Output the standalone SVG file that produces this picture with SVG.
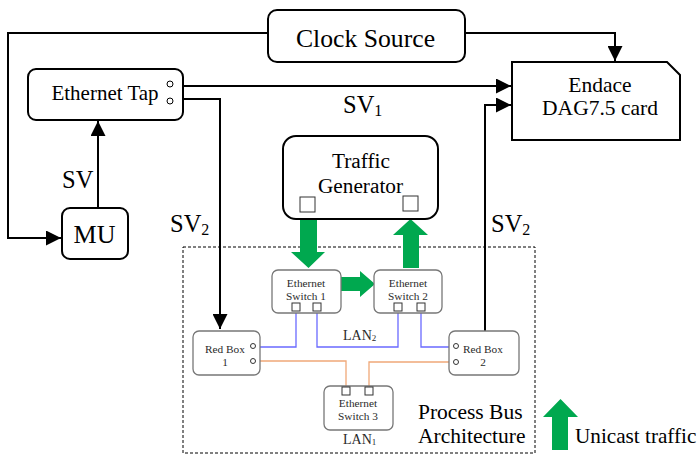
<svg xmlns="http://www.w3.org/2000/svg" width="697" height="455" viewBox="0 0 697 455" font-family="Liberation Serif, Times New Roman, serif">
  <defs>
    <marker id="arrowLg" viewBox="0 0 10 10" refX="10" refY="5" markerWidth="7.5" markerHeight="7.5" orient="auto">
      <path d="M0,0 L10,5 L0,10 z" fill="#000"/>
    </marker>
  </defs>
  <style>
    text { font-family: 'Liberation Serif', 'Times New Roman', serif; fill: #000; }
    .box { fill: #fff; stroke: #000; stroke-width: 2; }
    .sub { fill: #fff; stroke: #777; stroke-width: 1.3; }
    .port { fill: #fff; stroke: #333; stroke-width: 1; }
    .wire { fill: none; stroke: #000; stroke-width: 2; }
    .lan2 { fill: none; stroke: #6a6aff; stroke-width: 1.3; }
    .lan1 { fill: none; stroke: #f0a878; stroke-width: 1.3; }
    .lbl { font-size: 21.5px; }
    .sv { font-size: 24.5px; }
    .subs { font-size: 16px; }
    .small { font-size: 11.3px; fill: #2a2a2a; }
    .lan { font-size: 14px; fill: #2a2a2a; }
    .green { fill: #00a84f; }
  </style>

  <!-- process bus boundary -->
  <rect x="183" y="247" width="352" height="206" fill="none" stroke="#000" stroke-width="1" stroke-dasharray="3,2"/>

  <g id="connectors">
    <!-- clock distribution -->
    <polyline class="wire" points="268,33 8,33 8,238 61,238" marker-end="url(#arrowLg)"/>
    <polyline class="wire" points="465,33 615,33 615,61" marker-end="url(#arrowLg)"/>
    <!-- SV from MU to tap -->
    <line class="wire" x1="98" y1="208" x2="98" y2="121" marker-end="url(#arrowLg)"/>
    <!-- SV1 to DAG card -->
    <line class="wire" x1="181" y1="86" x2="511" y2="86" marker-end="url(#arrowLg)"/>
    <!-- SV2 from tap to Red Box 1 -->
    <polyline class="wire" points="181,99 220,99 220,329" marker-end="url(#arrowLg)"/>
    <!-- SV2 from Red Box 2 to DAG card -->
    <polyline class="wire" points="485,331 485,105 511,105" marker-end="url(#arrowLg)"/>

    <!-- LAN2 wiring -->
    <polyline class="lan2" points="256,347 296,347 296,311"/>
    <polyline class="lan2" points="317,311 317,347 398,347 398,311"/>
    <polyline class="lan2" points="421,311 421,347 454,347"/>
    <!-- LAN1 wiring -->
    <polyline class="lan1" points="256,361 346,361 346,387"/>
    <polyline class="lan1" points="369,387 369,362 454,362"/>

    <!-- unicast traffic -->
    <path class="green" d="M300,219 H317 V252 H325 L308.5,268 L291,252 H300 Z"/>
    <path class="green" d="M403,268 H419 V235 H428 L410.5,219 L393,235 H403 Z"/>
    <path class="green" d="M338,277 H360 V271 L375,284 L360,297 V291 H338 Z"/>
  </g>

  <g id="clock-source">
    <rect class="box" x="268" y="10" width="197" height="52" rx="9"/>
    <text x="365.5" y="47" text-anchor="middle" font-size="25.7">Clock Source</text>
  </g>

  <g id="dag-card">
    <path class="box" d="M512,62 H667 L680,75 V140 H512 Z" stroke-width="1.3" stroke="#444"/>
    <text class="lbl" x="600" y="92" text-anchor="middle">Endace</text>
    <text class="lbl" x="600" y="115" text-anchor="middle">DAG7.5 card</text>
  </g>

  <g id="ethernet-tap">
    <rect class="box" x="28" y="69" width="155" height="51" rx="8"/>
    <text x="105" y="100" text-anchor="middle" font-size="21">Ethernet Tap</text>
    <circle cx="170" cy="84" r="3" fill="#fff" stroke="#000" stroke-width="1"/>
    <circle cx="170" cy="101" r="3" fill="#fff" stroke="#000" stroke-width="1"/>
  </g>

  <g id="mu">
    <rect class="box" x="62" y="208" width="66" height="51" rx="8"/>
    <text x="94.5" y="243" text-anchor="middle" font-size="26">MU</text>
  </g>

  <g id="traffic-generator">
    <rect class="box" x="283" y="136" width="155" height="83" rx="13"/>
    <text x="361" y="168" text-anchor="middle" font-size="21.3">Traffic</text>
    <text x="360.5" y="193" text-anchor="middle" font-size="21.3">Generator</text>
    <rect class="port" x="300" y="197" width="15" height="15"/>
    <rect class="port" x="403" y="196" width="15" height="15"/>
  </g>

  <g id="switch-1">
    <rect class="sub" x="272" y="270" width="69" height="43" rx="6"/>
    <text class="small" x="306" y="287" text-anchor="middle">Ethernet</text>
    <text class="small" x="306" y="300" text-anchor="middle">Switch 1</text>
    <rect class="port" x="292" y="303" width="8" height="8"/>
    <rect class="port" x="313" y="303" width="8" height="8"/>
  </g>

  <g id="switch-2">
    <rect class="sub" x="374" y="270" width="68" height="43" rx="6"/>
    <text class="small" x="408" y="287" text-anchor="middle">Ethernet</text>
    <text class="small" x="408" y="300" text-anchor="middle">Switch 2</text>
    <rect class="port" x="394" y="303" width="8" height="8"/>
    <rect class="port" x="417" y="303" width="8" height="8"/>
  </g>

  <g id="switch-3">
    <rect class="sub" x="324" y="386" width="69" height="44" rx="6"/>
    <rect class="port" x="342" y="387" width="8" height="8"/>
    <rect class="port" x="365" y="387" width="8" height="8"/>
    <text class="small" x="358" y="407" text-anchor="middle">Ethernet</text>
    <text class="small" x="358" y="420" text-anchor="middle">Switch 3</text>
  </g>

  <g id="red-box-1">
    <rect class="sub" x="193" y="331" width="67" height="44" rx="6"/>
    <text class="small" x="225" y="353" text-anchor="middle">Red Box</text>
    <text class="small" x="225" y="366" text-anchor="middle">1</text>
    <circle cx="253" cy="346" r="2.5" fill="#fff" stroke="#333" stroke-width="1"/>
    <circle cx="253" cy="361" r="2.5" fill="#fff" stroke="#333" stroke-width="1"/>
  </g>

  <g id="red-box-2">
    <rect class="sub" x="449" y="331" width="70" height="44" rx="6"/>
    <text class="small" x="483" y="353" text-anchor="middle">Red Box</text>
    <text class="small" x="483" y="366" text-anchor="middle">2</text>
    <circle cx="456" cy="346" r="2.5" fill="#fff" stroke="#333" stroke-width="1"/>
    <circle cx="456" cy="362" r="2.5" fill="#fff" stroke="#333" stroke-width="1"/>
  </g>

  <g id="labels">
    <text class="sv" x="343" y="113">SV<tspan class="subs" dy="3">1</tspan></text>
    <text class="sv" x="62" y="188">SV</text>
    <text class="sv" x="170" y="232">SV<tspan class="subs" dy="3">2</tspan></text>
    <text class="sv" x="491" y="232">SV<tspan class="subs" dy="3">2</tspan></text>
    <text class="lan" x="343" y="340">LAN<tspan font-size="9" dy="1">2</tspan></text>
    <text class="lan" x="343" y="444">LAN<tspan font-size="9" dy="1">1</tspan></text>
    <text class="lbl" x="418" y="419">Process Bus</text>
    <text class="lbl" x="418" y="443">Architecture</text>
  </g>

  <g id="legend">
    <path class="green" d="M552,450 H568 V417 H578 L560.5,399 L543,417 H552 Z"/>
    <text x="575" y="443" font-size="21.2">Unicast traffic</text>
  </g>
</svg>
